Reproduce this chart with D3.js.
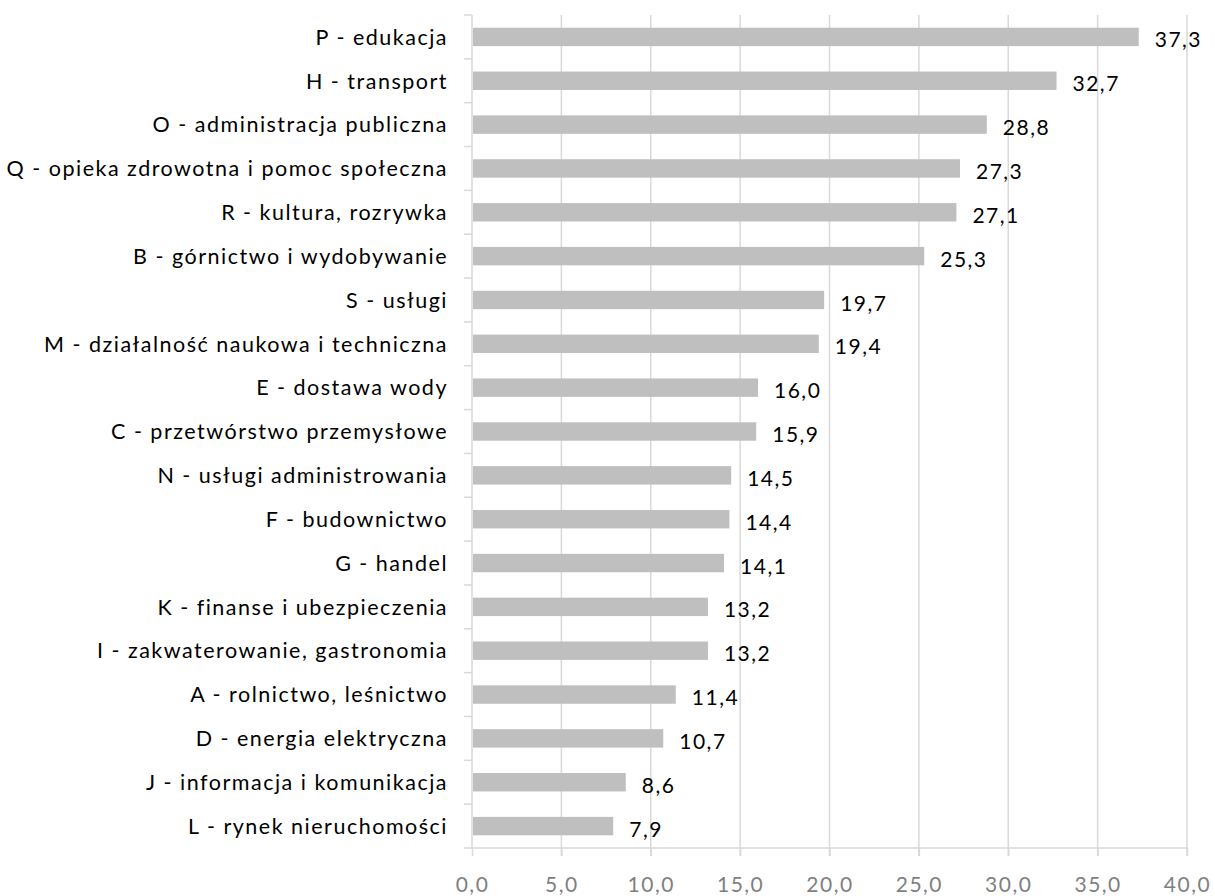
<!DOCTYPE html>
<html>
<head>
<meta charset="utf-8">
<script src="https://cdn.jsdelivr.net/npm/d3@7"></script>
<style>
  body { margin: 0; background: #fff; }
  svg text { font-family: Lato, "Open Sans", sans-serif; letter-spacing: 1.5px; }
</style>
</head>
<body>
<div class="chart"></div>
<script>
// categories and values, top to bottom
const categories = [
  "P - edukacja",
  "H - transport",
  "O - administracja publiczna",
  "Q - opieka zdrowotna i pomoc społeczna",
  "R - kultura, rozrywka",
  "B - górnictwo i wydobywanie",
  "S - usługi",
  "M - działalność naukowa i techniczna",
  "E - dostawa wody",
  "C - przetwórstwo przemysłowe",
  "N - usługi administrowania",
  "F - budownictwo",
  "G - handel",
  "K - finanse i ubezpieczenia",
  "I - zakwaterowanie, gastronomia",
  "A - rolnictwo, leśnictwo",
  "D - energia elektryczna",
  "J - informacja i komunikacja",
  "L - rynek nieruchomości"
];
const values = [37.3, 32.7, 28.8, 27.3, 27.1, 25.3, 19.7, 19.4, 16.0, 15.9,
                14.5, 14.4, 14.1, 13.2, 13.2, 11.4, 10.7, 8.6, 7.9];
const xTicks = [0, 5, 10, 15, 20, 25, 30, 35, 40];

const data = categories.map((c, i) => ({name: c, value: values[i]}));

// margins, width and height
const margin = ({top: 15, right: 28, bottom: 48, left: 472});
const width = 1215 - margin.left - margin.right;
const height = 896 - margin.top - margin.bottom;

const fmt = (v) => v.toFixed(1).replace(".", ",");

const svg = d3.select(".chart")
    .append('svg')
    .attr('width', width + margin.left + margin.right)
    .attr('height', height + margin.top + margin.bottom)
    .append('g')
    .attr('transform', 'translate(' + margin.left + ',' + margin.top + ')');

// scales
const xScale = d3.scaleLinear()
    .domain([0, 40])
    .range([0, width]);

const yScale = d3.scaleBand()
    .domain(categories)
    .range([0, height])
    .paddingInner(0.58)
    .paddingOuter(0.29);

// vertical gridlines
svg.append('g')
    .attr('class', 'grid')
    .selectAll('line')
    .data(xTicks.slice(1))
    .enter()
    .append('line')
    .attr('x1', (d) => xScale(d))
    .attr('x2', (d) => xScale(d))
    .attr('y1', 0)
    .attr('y2', height + 8)
    .attr('stroke', '#d9d9d9')
    .attr('stroke-width', 1.5);

// x axis
const xAxis = d3.axisBottom(xScale)
    .tickValues(xTicks)
    .tickFormat(fmt)
    .tickSize(8)
    .tickPadding(21);

svg.append('g')
    .attr('class', 'axis x-axis')
    .attr('transform', 'translate(0,' + height + ')')
    .call(xAxis)
    .call(g => g.select('.domain').attr('stroke', '#d9d9d9').attr('stroke-width', 1.5)
        .attr('d', 'M0,0H' + width))
    .call(g => g.selectAll('.tick line').attr('stroke', '#d9d9d9').attr('stroke-width', 1.5))
    .call(g => g.selectAll('.tick text')
        .attr('fill', '#7f7f7f')
        .attr('font-size', 21)
        .attr('font-family', 'Lato, sans-serif'));

// y axis: line with ticks at category boundaries
const yAxisG = svg.append('g').attr('class', 'axis y-axis');
yAxisG.append('line')
    .attr('x1', 0).attr('x2', 0)
    .attr('y1', 0).attr('y2', height)
    .attr('stroke', '#d9d9d9')
    .attr('stroke-width', 1.5);
yAxisG.selectAll('.bound')
    .data(d3.range(categories.length + 1))
    .enter()
    .append('line')
    .attr('class', 'bound')
    .attr('x1', -8).attr('x2', 0)
    .attr('y1', (i) => i * yScale.step())
    .attr('y2', (i) => i * yScale.step())
    .attr('stroke', '#d9d9d9')
    .attr('stroke-width', 1.5);

// category labels
yAxisG.selectAll('text')
    .data(categories)
    .enter()
    .append('text')
    .attr('x', -24)
    .attr('y', (d) => yScale(d) + yScale.bandwidth() / 2)
    .attr('dy', '0.36em')
    .attr('text-anchor', 'end')
    .attr('font-size', 21.5)
    .attr('fill', '#000')
    .text((d) => d);

// bars
svg.selectAll('rect.bar')
    .data(data)
    .enter()
    .append('rect')
    .attr('class', 'bar')
    .attr('x', 1)
    .attr('y', (d) => yScale(d.name))
    .attr('width', (d) => xScale(d.value) - 1)
    .attr('height', yScale.bandwidth())
    .attr('fill', '#bfbfbf');

// value labels
svg.selectAll('text.value')
    .data(data)
    .enter()
    .append('text')
    .attr('class', 'value')
    .attr('x', (d) => xScale(d.value) + 16)
    .attr('y', (d) => yScale(d.name) + yScale.bandwidth() / 2 + 3)
    .attr('dy', '0.36em')
    .attr('font-size', 21)
    .attr('fill', '#000')
    .text((d) => fmt(d.value));
</script>
</body>
</html>
